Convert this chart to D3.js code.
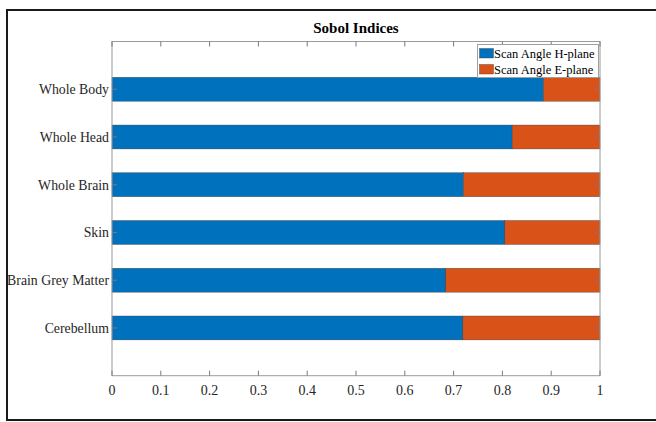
<!DOCTYPE html>
<html>
<head>
<meta charset="utf-8">
<script src="https://cdn.jsdelivr.net/npm/d3@7"></script>
<style>
  body { margin: 0; background: #fff; }
  text { font-family: "Liberation Serif", "Times New Roman", serif; fill: #262626; }
</style>
</head>
<body>
<svg id="chart" width="656" height="422"></svg>
<script>
// categories, top to bottom
var categories = ['Whole Body', 'Whole Head', 'Whole Brain', 'Skin', 'Brain Grey Matter', 'Cerebellum'];
var seriesNames = ['Scan Angle H-plane', 'Scan Angle E-plane'];
var hPlane = [0.884, 0.820, 0.720, 0.805, 0.684, 0.719];
var ePlane = [0.116, 0.180, 0.280, 0.195, 0.316, 0.281];
var xTicks = [0, 0.1, 0.2, 0.3, 0.4, 0.5, 0.6, 0.7, 0.8, 0.9, 1];
var colors = ['#0072BD', '#D95319'];

var svg = d3.select('#chart');

// outer frame
svg.append('rect')
    .attr('x', 7).attr('y', 10)
    .attr('width', 650).attr('height', 410)
    .style('fill', 'none')
    .style('stroke', '#1a1a1a')
    .style('stroke-width', 2);

var plotLeft = 112, plotRight = 600, plotTop = 41.5, plotBottom = 375.7;

var x = d3.scaleLinear().domain([0, 1]).range([plotLeft, plotRight]);
// categories sit at 1..6 within [0, 7]
var y = d3.scaleLinear().domain([0, 7]).range([plotTop, plotBottom]);
var barH = y(0.5) - y(0);

var rows = categories.map(function (c, i) {
    return {name: c, pos: i + 1, vals: [hPlane[i], ePlane[i]]};
});

// bars
var g = svg.append('g');
rows.forEach(function (r) {
    var start = 0;
    r.vals.forEach(function (v, k) {
        g.append('rect')
            .attr('x', x(start))
            .attr('y', y(r.pos) - barH / 2)
            .attr('width', x(start + v) - x(start))
            .attr('height', barH)
            .style('fill', colors[k])
            .style('stroke', '#3a3a3a')
            .style('stroke-width', 0.4);
        start += v;
    });
});

// axes box
svg.append('rect')
    .attr('x', plotLeft).attr('y', plotTop)
    .attr('width', plotRight - plotLeft).attr('height', plotBottom - plotTop)
    .style('fill', 'none')
    .style('stroke', '#9a9a9a')
    .style('stroke-width', 1);

var tickLen = 5;
var axisColor = '#7a7a7a';

// x ticks, bottom and top, inward
xTicks.forEach(function (t) {
    svg.append('line')
        .attr('x1', x(t)).attr('x2', x(t))
        .attr('y1', plotBottom).attr('y2', plotBottom - tickLen)
        .style('stroke', axisColor);
    svg.append('line')
        .attr('x1', x(t)).attr('x2', x(t))
        .attr('y1', plotTop).attr('y2', plotTop + tickLen)
        .style('stroke', axisColor);
    svg.append('text')
        .attr('x', x(t))
        .attr('y', 395)
        .attr('text-anchor', 'middle')
        .style('font-size', '14px')
        .text(t);
});

// y ticks and labels
rows.forEach(function (r) {
    svg.append('line')
        .attr('x1', plotLeft).attr('x2', plotLeft + tickLen)
        .attr('y1', y(r.pos)).attr('y2', y(r.pos))
        .style('stroke', axisColor);
    svg.append('line')
        .attr('x1', plotRight).attr('x2', plotRight - tickLen)
        .attr('y1', y(r.pos)).attr('y2', y(r.pos))
        .style('stroke', axisColor);
    svg.append('text')
        .attr('x', plotLeft - 3)
        .attr('y', y(r.pos))
        .attr('dy', '0.35em')
        .attr('text-anchor', 'end')
        .style('font-size', '13.8px')
        .text(r.name);
});

// title
svg.append('text')
    .attr('x', (plotLeft + plotRight) / 2)
    .attr('y', 33)
    .attr('text-anchor', 'middle')
    .style('font-size', '15px')
    .style('font-weight', 'bold')
    .style('fill', '#000')
    .text('Sobol Indices');

// legend
var lg = svg.append('g').attr('transform', 'translate(477.5,44.5)');
lg.append('rect')
    .attr('width', 121).attr('height', 33)
    .style('fill', '#fff')
    .style('stroke', '#a0a0a0')
    .style('stroke-width', 1);
seriesNames.forEach(function (s, k) {
    lg.append('rect')
        .attr('x', 2).attr('y', 4 + k * 16)
        .attr('width', 14).attr('height', 9.5)
        .style('fill', colors[k])
        .style('stroke', '#3a3a3a')
        .style('stroke-width', 0.4);
    lg.append('text')
        .attr('x', 16.5).attr('y', 9 + k * 16)
        .attr('dy', '0.35em')
        .style('font-size', '12.5px')
        .style('fill', '#000')
        .text(s);
});
</script>
</body>
</html>
